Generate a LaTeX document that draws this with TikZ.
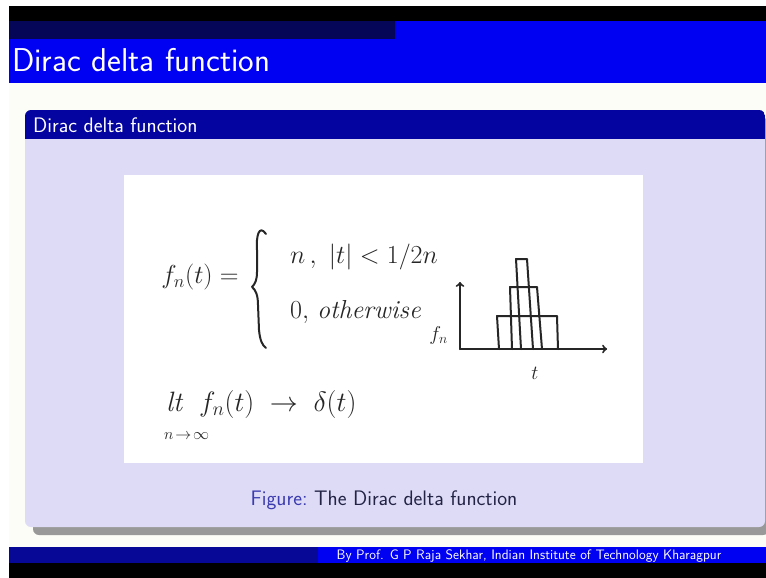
\documentclass[tikz,border=0pt]{standalone}
\usepackage{fix-cm}
\usepackage{fontspec}
\usetikzlibrary{positioning}

\definecolor{barnavy}{RGB}{6,6,88}
\definecolor{barblue}{RGB}{0,0,242}
\definecolor{blocknavy}{RGB}{4,4,160}
\definecolor{blockbody}{RGB}{221,219,245}
\definecolor{slidebg}{RGB}{253,253,247}
\definecolor{footnavy}{RGB}{8,8,150}
\definecolor{capblue}{RGB}{60,60,175}
\definecolor{captext}{RGB}{35,35,70}

\tikzset{
  hand/.style={font=\fontsize{26}{30}\selectfont, inner sep=0pt, text=black!85},
  handsmall/.style={font=\fontsize{20}{24}\selectfont, inner sep=0pt, text=black!85},
  penline/.style={line width=2pt, line cap=round, line join=round, draw=black!85},
}

\begin{document}
\begin{tikzpicture}[x=1pt, y=-1pt]
\useasboundingbox (0,0) rectangle (766,578);

% Fondo y barras
\fill[white] (0,0) rectangle (766,578);
\fill[slidebg] (9,6) rectangle (766,578);
\fill[black] (9,6) rectangle (766,21);
\fill[barnavy] (9,21) rectangle (395,39);
\fill[barblue] (395,21) rectangle (766,39);
\fill[barblue] (9,39) rectangle (766,83);
\node[anchor=base west, inner sep=0pt, text=white, font=\sffamily\fontsize{33}{38}\selectfont] (frametitle) at (12,72) {Dirac delta function};

% Bloque
\fill[black!40, rounded corners=6pt] (33,118) rectangle (769,535);
\fill[blockbody, rounded corners=6pt] (25,110) rectangle (765,527);
\begin{scope}
	\clip[rounded corners=6pt] (25,110) rectangle (765,527);
	\fill[blocknavy] (25,110) rectangle (765,139);
\end{scope}
\node[anchor=base west, inner sep=0pt, text=white, font=\sffamily\fontsize{21}{25}\selectfont] (blocktitle) at (33,132) {Dirac delta function};

\fill[white] (124,175) rectangle (643,463);

% Definicion
\node[hand] (fdef) at (200,277) {$f_n(t) =$};
\draw[penline] (266,234) .. controls (259,224) and (256,236) .. (257,250) -- (257,272)
	.. controls (257,280) and (255,284) .. (252,287)
	.. controls (256,290) and (258,296) .. (258,305) -- (259,330)
	.. controls (260,340) and (262,345) .. (266,348);
\node[hand, anchor=base west] (caseone) at (290,263) {$n\,,\ |t| < 1/2n$};
\node[hand, anchor=base west] (casetwo) at (290,318) {$0,$\ \textit{otherwise}};

% Grafica
\coordinate (origin) at (460,349);
\coordinate (ytop) at (460,282);
\coordinate (xend) at (607,349);
\draw[penline, ->] (origin) -- (ytop);
\draw[penline, ->] (origin) -- (xend);
\node[handsmall, left=12pt of origin, yshift=14pt] (flabel) {$f_n$};

\foreach \bl/\tl/\tr/\br/\h in {499/497/557/558/316, 512/510/537/542/287, 521/516/527/533/259}
	\draw[penline] (\bl,349) -- (\tl,\h) -- (\tr,\h) -- (\br,349);

\node[handsmall] (tmark) at (535,373) {$t$};

% Limite
\node[hand, font=\fontsize{28}{32}\selectfont, anchor=base west] (limit) at (166,411) {$\mathit{lt}\ \ f_n(t) \;\to\; \delta(t)$};
\node[handsmall, font=\fontsize{16}{19}\selectfont, anchor=base west] (limsub) at (164,439) {$n\!\to\!\infty$};

% Leyenda
\node[anchor=base, inner sep=0pt, font=\sffamily\fontsize{21}{25}\selectfont] (caption) at (384,505)
	{\textcolor{capblue}{Figure:}\ \textcolor{captext}{The Dirac delta function}};

% Pie
\fill[footnavy] (9,547) rectangle (318,563);
\fill[barblue] (318,547) rectangle (766,563);
\fill[black] (9,563) rectangle (766,578);
\node[anchor=base, inner sep=0pt, text=white, font=\sffamily\fontsize{13.7}{15}\selectfont] (footer) at (529,559)
	{By Prof. G P Raja Sekhar, Indian Institute of Technology Kharagpur};
\end{tikzpicture}
\end{document}
